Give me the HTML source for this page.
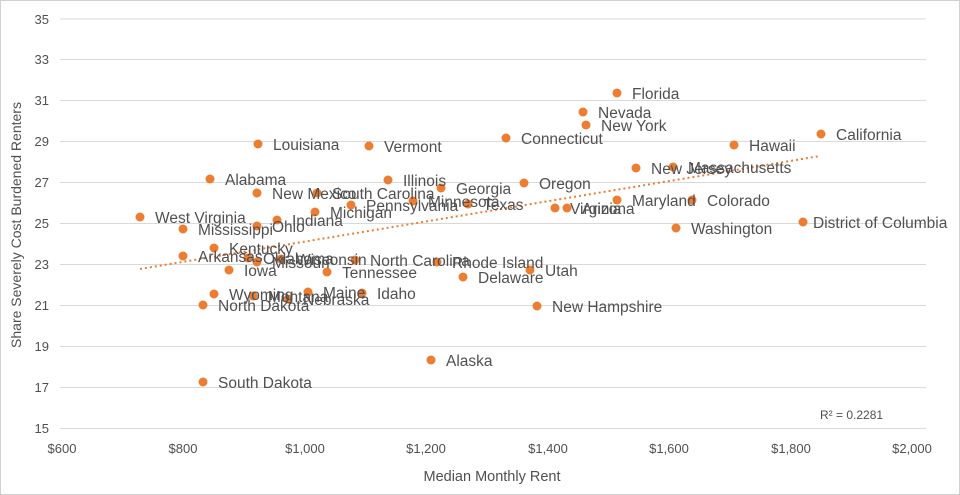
<!DOCTYPE html>
<html><head><meta charset="utf-8"><style>
html,body{margin:0;padding:0;background:#fff}
svg{display:block}
text{font-family:"Liberation Sans",sans-serif;fill:#505050}
</style></head><body>
<svg width="960" height="495" viewBox="0 0 960 495" xmlns="http://www.w3.org/2000/svg">
<rect x="0.5" y="0.5" width="959" height="494" fill="#fff" stroke="#d0d0d0"/>
<g stroke="#d9d9d9" stroke-width="1">
<line x1="60" x2="926" y1="19" y2="19"/><line x1="60" x2="926" y1="59.5" y2="59.5"/>
<line x1="60" x2="926" y1="100.5" y2="100.5"/><line x1="60" x2="926" y1="141.5" y2="141.5"/>
<line x1="60" x2="926" y1="182.5" y2="182.5"/><line x1="60" x2="926" y1="223.5" y2="223.5"/>
<line x1="60" x2="926" y1="264.5" y2="264.5"/><line x1="60" x2="926" y1="305.5" y2="305.5"/>
<line x1="60" x2="926" y1="346.5" y2="346.5"/><line x1="60" x2="926" y1="387.5" y2="387.5"/>
<line x1="60" x2="926" y1="428.5" y2="428.5"/>
</g>
<g font-size="13" text-anchor="end">
<text x="49" y="24">35</text><text x="49" y="64">33</text><text x="49" y="105">31</text>
<text x="49" y="146">29</text><text x="49" y="187">27</text><text x="49" y="228">25</text>
<text x="49" y="269">23</text><text x="49" y="310">21</text><text x="49" y="351">19</text>
<text x="49" y="392">17</text><text x="49" y="433">15</text>
</g>
<g font-size="13" text-anchor="middle">
<text x="62" y="453">$600</text><text x="183" y="453">$800</text><text x="305" y="453">$1,000</text>
<text x="426" y="453">$1,200</text><text x="548" y="453">$1,400</text><text x="669" y="453">$1,600</text>
<text x="791" y="453">$1,800</text><text x="912" y="453">$2,000</text>
</g>
<text x="492" y="481" font-size="14.5" text-anchor="middle">Median Monthly Rent</text>
<text transform="translate(21,225) rotate(-90)" font-size="14" text-anchor="middle">Share Severely Cost Burdened Renters</text>
<line x1="140" y1="269" x2="820" y2="156" stroke="#ED7D31" stroke-width="2" stroke-dasharray="2,3"/>
<text x="820" y="419" font-size="12">R² = 0.2281</text>
<g fill="#ED7D31">
<circle cx="617" cy="93" r="4.5"/><circle cx="583" cy="112" r="4.5"/><circle cx="586" cy="125" r="4.5"/>
<circle cx="506" cy="138" r="4.5"/><circle cx="258" cy="144" r="4.5"/><circle cx="369" cy="146" r="4.5"/>
<circle cx="734" cy="145" r="4.5"/><circle cx="821" cy="134" r="4.5"/><circle cx="210" cy="179" r="4.5"/>
<circle cx="388" cy="180" r="4.5"/><circle cx="524" cy="183" r="4.5"/><circle cx="441" cy="188" r="4.5"/>
<circle cx="636" cy="168" r="4.5"/><circle cx="673" cy="167" r="4.5"/><circle cx="257" cy="193" r="4.5"/>
<circle cx="317" cy="193" r="4.5"/><circle cx="351" cy="205" r="4.5"/><circle cx="413" cy="201" r="4.5"/>
<circle cx="468" cy="204" r="4.5"/><circle cx="617" cy="200" r="4.5"/><circle cx="692" cy="200" r="4.5"/>
<circle cx="567" cy="208" r="4.5"/><circle cx="555" cy="208" r="4.5"/><circle cx="315" cy="212" r="4.5"/>
<circle cx="277" cy="220" r="4.5"/><circle cx="140" cy="217" r="4.5"/><circle cx="257" cy="226" r="4.5"/>
<circle cx="183" cy="229" r="4.5"/><circle cx="803" cy="222" r="4.5"/><circle cx="676" cy="228" r="4.5"/>
<circle cx="214" cy="248" r="4.5"/><circle cx="183" cy="256" r="4.5"/><circle cx="248" cy="258" r="4.5"/>
<circle cx="257" cy="262" r="4.5"/><circle cx="281" cy="259" r="4.5"/><circle cx="355" cy="260" r="4.5"/>
<circle cx="437" cy="262" r="4.5"/><circle cx="229" cy="270" r="4.5"/><circle cx="327" cy="272" r="4.5"/>
<circle cx="530" cy="270" r="4.5"/><circle cx="463" cy="277" r="4.5"/><circle cx="214" cy="294" r="4.5"/>
<circle cx="308" cy="292" r="4.5"/><circle cx="362" cy="293" r="4.5"/><circle cx="253" cy="296" r="4.5"/>
<circle cx="288" cy="299" r="4.5"/><circle cx="203" cy="305" r="4.5"/><circle cx="537" cy="306" r="4.5"/>
<circle cx="431" cy="360" r="4.5"/><circle cx="203" cy="382" r="4.5"/>
</g>
<g font-size="15.5">
<text x="632" y="99">Florida</text><text x="598" y="118">Nevada</text><text x="601" y="131">New York</text>
<text x="521" y="144">Connecticut</text><text x="273" y="150">Louisiana</text><text x="384" y="152">Vermont</text>
<text x="749" y="151">Hawaii</text><text x="836" y="140">California</text><text x="225" y="185">Alabama</text>
<text x="403" y="186">Illinois</text><text x="539" y="189">Oregon</text><text x="456" y="194">Georgia</text>
<text x="651" y="174">New Jersey</text><text x="688" y="173">Massachusetts</text><text x="272" y="199">New Mexico</text>
<text x="332" y="199">South Carolina</text><text x="366" y="211">Pennsylvania</text><text x="428" y="207">Minnesota</text>
<text x="483" y="210">Texas</text><text x="632" y="206">Maryland</text><text x="707" y="206">Colorado</text>
<text x="582" y="214">Arizona</text><text x="570" y="214">Virginia</text><text x="330" y="218">Michigan</text>
<text x="292" y="226">Indiana</text><text x="155" y="223">West Virginia</text><text x="272" y="232">Ohio</text>
<text x="198" y="235">Mississippi</text><text x="813" y="228">District of Columbia</text><text x="691" y="234">Washington</text>
<text x="229" y="254">Kentucky</text><text x="198" y="262">Arkansas</text><text x="263" y="264">Oklahoma</text>
<text x="272" y="268">Missouri</text><text x="296" y="265">Wisconsin</text><text x="370" y="266">North Carolina</text>
<text x="452" y="268">Rhode Island</text><text x="244" y="276">Iowa</text><text x="342" y="278">Tennessee</text>
<text x="545" y="276">Utah</text><text x="478" y="283">Delaware</text><text x="229" y="300">Wyoming</text>
<text x="323" y="298">Maine</text><text x="377" y="299">Idaho</text><text x="268" y="302">Montana</text>
<text x="303" y="305">Nebraska</text><text x="218" y="311">North Dakota</text><text x="552" y="312">New Hampshire</text>
<text x="446" y="366">Alaska</text><text x="218" y="388">South Dakota</text>
</g>
</svg>
</body></html>
